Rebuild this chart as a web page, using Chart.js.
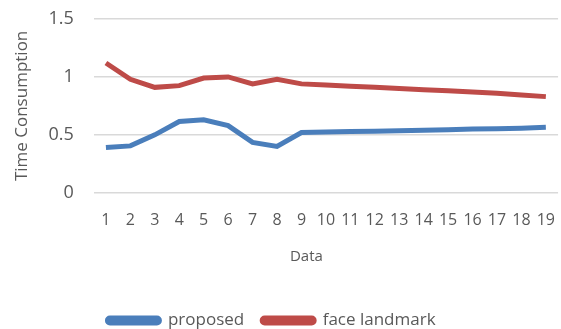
<!DOCTYPE html>
<html>
<head>
<meta charset="utf-8">
<script src="https://cdn.jsdelivr.net/npm/chart.js@4"></script>
<style>
  html, body { margin: 0; padding: 0; background: #fff; overflow: hidden; }
  #wrap { width: 565px; height: 329px; position: relative; }
</style>
</head>
<body>
<div id="wrap"><canvas id="timeChart"></canvas></div>
<script>
const categories = ['1','2','3','4','5','6','7','8','9','10','11','12','13','14','15','16','17','18','19'];
const proposed = [0.39, 0.405, 0.50, 0.615, 0.63, 0.58, 0.435, 0.40, 0.52, 0.525, 0.528, 0.532, 0.535, 0.54, 0.545, 0.55, 0.553, 0.558, 0.565];
const faceLandmark = [1.12, 0.98, 0.91, 0.925, 0.99, 1.0, 0.94, 0.98, 0.94, 0.93, 0.92, 0.91, 0.90, 0.89, 0.88, 0.87, 0.86, 0.845, 0.83];
const yTicks = [0, 0.5, 1, 1.5];

const colors = {
    blue: '#4A7EBB',
    red: '#BE4B48',
    grid: '#D9D9D9',
    text: '#595959'
};
const fontFamily = "'Open Sans', 'Liberation Sans', sans-serif";

// legend sits a bit left of centre in the original
const legendShift = {
    id: 'legendShift',
    afterLayout(chart) {
        const lg = chart.legend;
        if (lg) { lg.left -= 11; lg.right -= 11; }
    }
};

new Chart(document.getElementById('timeChart').getContext('2d'), {
    type: 'line',
    data: {
        labels: categories,
        datasets: [
            {
                label: 'proposed',
                data: proposed,
                borderColor: colors.blue,
                backgroundColor: colors.blue,
                borderWidth: 5,
                pointRadius: 0,
                tension: 0
            },
            {
                label: 'face landmark',
                data: faceLandmark,
                borderColor: colors.red,
                backgroundColor: colors.red,
                borderWidth: 5,
                pointRadius: 0,
                tension: 0
            }
        ]
    },
    plugins: [legendShift],
    options: {
        responsive: true,
        maintainAspectRatio: false,
        animation: false,
        layout: { padding: { top: 19, left: 0, right: 0, bottom: -10 } },
        plugins: {
            tooltip: { enabled: false },
            legend: {
                position: 'bottom',
                labels: {
                    boxWidth: 52,
                    boxHeight: 5,
                    useBorderRadius: true,
                    borderRadius: 2.5,
                    padding: 18,
                    color: colors.text,
                    font: { family: fontFamily, size: 17 }
                }
            }
        },
        scales: {
            x: {
                offset: true,
                grid: { display: false },
                border: { display: false },
                ticks: {
                    color: colors.text,
                    font: { family: fontFamily, size: 16 },
                    maxRotation: 0,
                    autoSkip: false,
                    padding: 10
                },
                title: {
                    display: true,
                    // trailing spaces nudge the centred title left, as in the original
                    text: 'Data          ',
                    color: colors.text,
                    font: { family: fontFamily, size: 15 },
                    padding: { top: 8, bottom: 28 }
                }
            },
            y: {
                min: 0,
                max: 1.5,
                afterBuildTicks: function(axis) {
                    axis.ticks = yTicks.map(v => ({ value: v }));
                },
                afterFit: function(axis) {
                    axis.paddingTop = 0;
                },
                grid: { color: colors.grid, lineWidth: 1.5, drawTicks: false },
                border: { display: false },
                ticks: {
                    color: colors.text,
                    font: { family: fontFamily, size: 18 },
                    padding: 20,
                    callback: v => String(v)
                },
                title: {
                    display: true,
                    text: 'Time Consumption',
                    color: colors.text,
                    font: { family: fontFamily, size: 17 },
                    padding: { top: 12, bottom: -4 }
                }
            }
        }
    }
});
</script>
</body>
</html>
